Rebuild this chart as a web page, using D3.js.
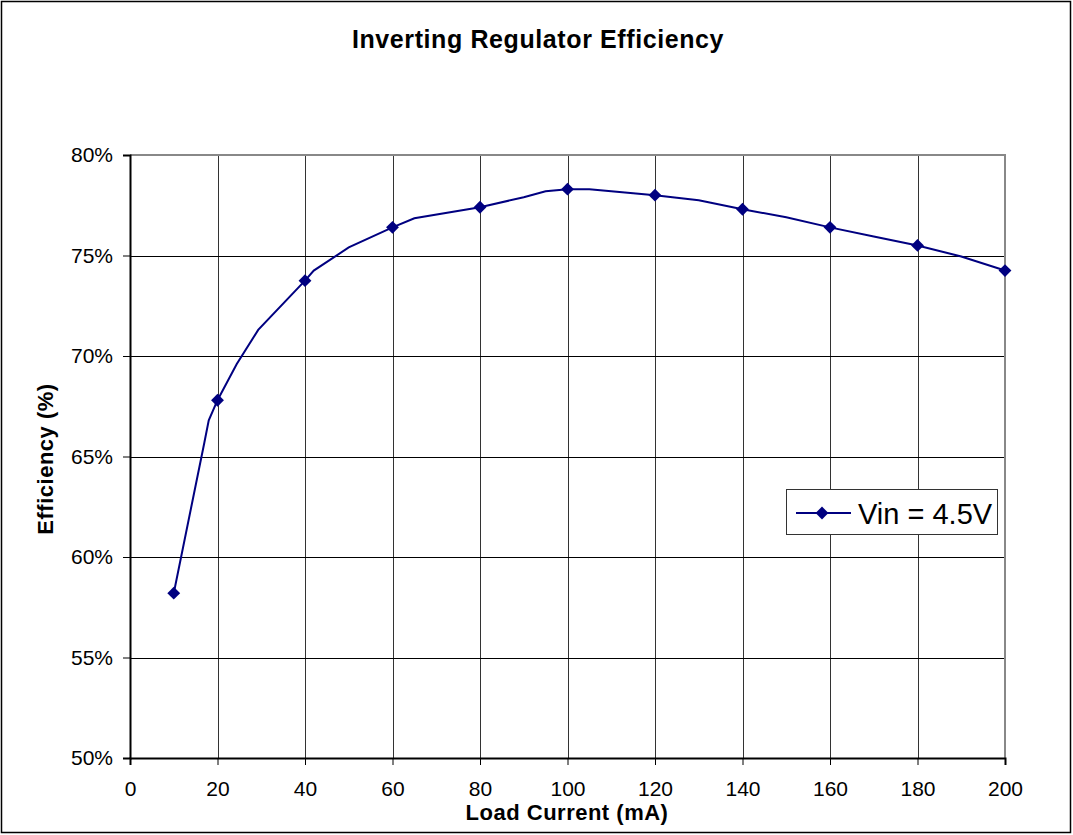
<!DOCTYPE html>
<html><head><meta charset="utf-8">
<script src="https://cdn.jsdelivr.net/npm/d3@7"></script>
<style>body{margin:0;background:#fff}svg{display:block}text{font-family:"Liberation Sans",Arial,sans-serif}</style>
</head><body>
<svg id="c" width="1073" height="835"></svg>
<script>
// Data
const lineX = [10,17,18,20,24.4,29.3,40,42,50,60,65,80,90,95,100,105,120,130,140,150,160,170,180,190,200];
const lineY = [58.2,65.7,66.8,67.8,69.6,71.3,73.75,74.25,75.4,76.4,76.85,77.4,77.9,78.2,78.3,78.3,78.0,77.75,77.3,76.9,76.4,75.95,75.5,74.95,74.25];
const markX = [10,20,40,60,80,100,120,140,160,180,200];
const markY = [58.2,67.8,73.75,76.4,77.4,78.3,78.0,77.3,76.4,75.5,74.25];
const xTicks = [0,20,40,60,80,100,120,140,160,180,200];
const yTicks = [50,55,60,65,70,75,80];
const seriesName = "Vin = 4.5V";
const title = "Inverting Regulator Efficiency";
const xTitle = "Load Current (mA)";
const yTitle = "Efficiency (%)";

const svg = d3.select("#c");
const L=130,R=1005,T=155,B=758;
const x = d3.scaleLinear().domain([0,200]).range([L,R]);
const y = d3.scaleLinear().domain([50,80]).range([B,T]);

svg.append("rect").attr("x",1.5).attr("y",1.5).attr("width",1069).attr("height",831)
  .attr("fill","#fff").attr("stroke","#000").attr("stroke-width",1.5);

svg.append("text").attr("x",538).attr("y",48).attr("text-anchor","middle")
  .attr("font-size",25).attr("letter-spacing",0.6).attr("font-weight","bold").text(title);

// grid
const g = svg.append("g");
g.selectAll(".vg").data(xTicks.slice(1,-1)).join("line")
  .attr("x1",d=>Math.round(x(d))+0.5).attr("x2",d=>Math.round(x(d))+0.5).attr("y1",T).attr("y2",B)
  .attr("stroke","#333").attr("stroke-width",1);
g.selectAll(".hg").data(yTicks.slice(1,-1)).join("line")
  .attr("y1",d=>Math.round(y(d))+0.5).attr("y2",d=>Math.round(y(d))+0.5).attr("x1",L).attr("x2",R)
  .attr("stroke","#000").attr("stroke-width",1);
// top and right border
g.append("line").attr("x1",L).attr("x2",R+1).attr("y1",T).attr("y2",T).attr("stroke","#888").attr("stroke-width",2);
g.append("line").attr("x1",R).attr("x2",R).attr("y1",T).attr("y2",B).attr("stroke","#888").attr("stroke-width",2);

// axes
const xa = svg.append("g").attr("transform",`translate(0,${B})`)
  .call(d3.axisBottom(x).tickValues(xTicks).tickSize(7).tickPadding(16).tickFormat(d3.format("d")));
const ya = svg.append("g").attr("transform",`translate(${L},0)`)
  .call(d3.axisLeft(y).tickValues(yTicks).tickSize(7).tickPadding(10).tickFormat(d=>d+"%"));
[xa,ya].forEach(a=>{
  a.select(".domain").attr("stroke","#000").attr("stroke-width",2);
  a.selectAll(".tick line").attr("stroke","#000").attr("stroke-width",1);
  a.selectAll(".tick text").attr("font-size",21).attr("fill","#000").attr("font-family","Liberation Sans, Arial, sans-serif");
});

svg.append("text").attr("x",567).attr("y",820).attr("text-anchor","middle")
  .attr("font-size",22).attr("letter-spacing",0.5).attr("font-weight","bold").text(xTitle);
svg.append("text").attr("transform","translate(53,459) rotate(-90)").attr("text-anchor","middle")
  .attr("font-size",22).attr("letter-spacing",0.5).attr("font-weight","bold").text(yTitle);

// series
const pts = lineX.map((d,i)=>[d,lineY[i]]);
svg.append("path").datum(pts).attr("fill","none").attr("stroke","#000080").attr("stroke-width",2)
  .attr("d",d3.line().x(d=>x(d[0])).y(d=>y(d[1])));
const diamond = d3.symbol().type(d3.symbolDiamond2).size(105);
svg.selectAll(".m").data(markX.map((d,i)=>[d,markY[i]])).join("path")
  .attr("transform",d=>`translate(${x(d[0])},${y(d[1])})`).attr("d",diamond).attr("fill","#000080");

// legend
const lg = svg.append("g");
lg.append("rect").attr("x",786.5).attr("y",489.5).attr("width",211).attr("height",45)
  .attr("fill","#fff").attr("stroke","#333").attr("stroke-width",1);
lg.append("line").attr("x1",796).attr("x2",851).attr("y1",513).attr("y2",513).attr("stroke","#000080").attr("stroke-width",2);
lg.append("path").attr("transform","translate(822,513)").attr("d",diamond).attr("fill","#000080");
lg.append("text").attr("x",858).attr("y",524).attr("font-size",29).text(seriesName);
</script>
</body></html>
